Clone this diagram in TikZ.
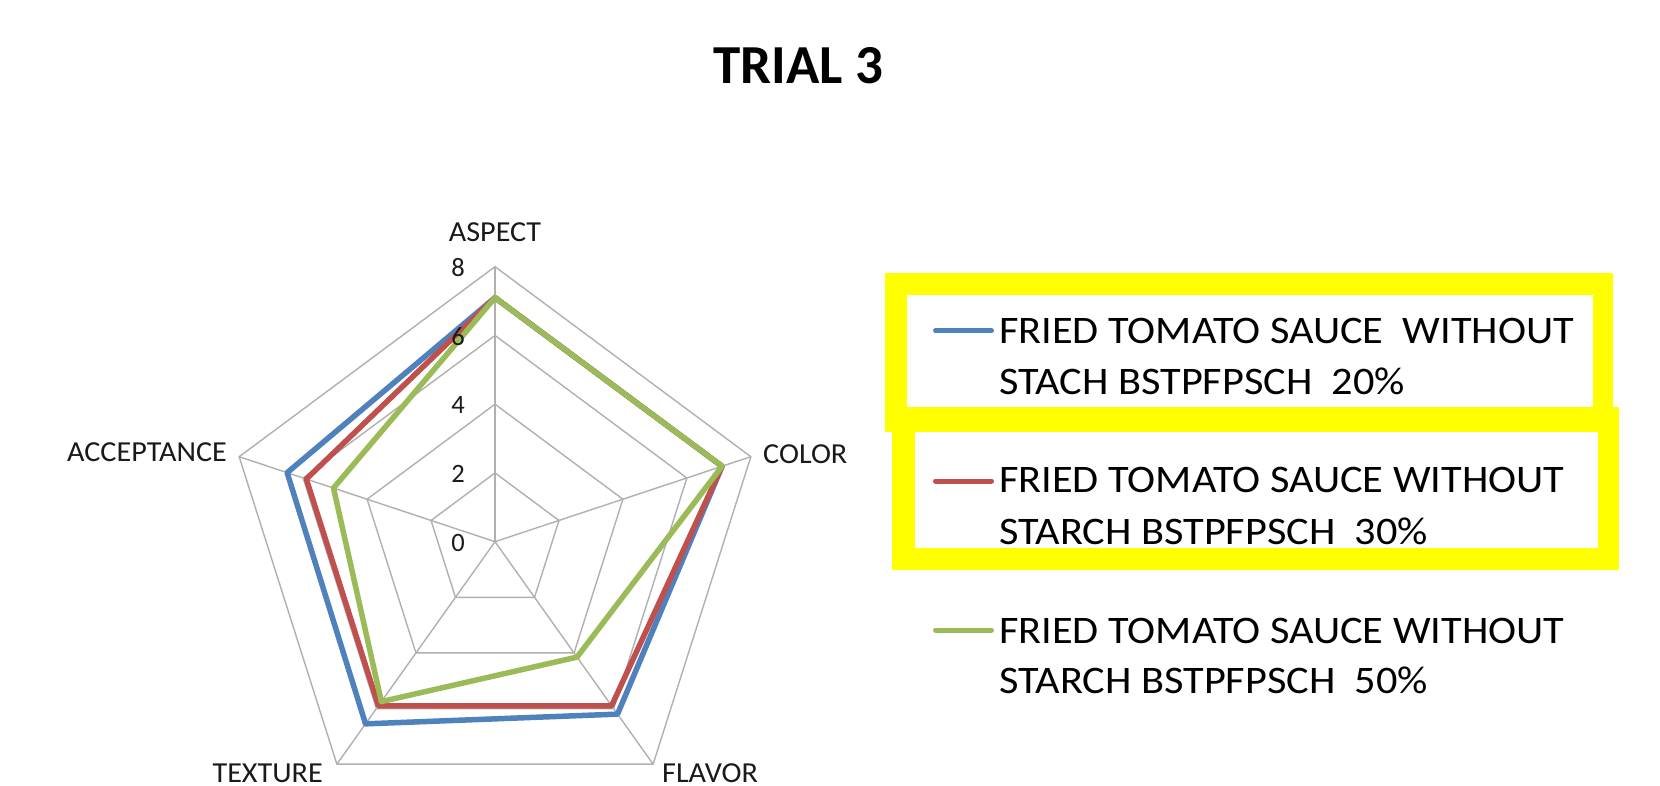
\documentclass[tikz,border=0pt]{standalone}
\usepackage{fontspec}
\setmainfont{Carlito}
\newfontfamily\legfont[FakeStretch=1.085]{Carlito}
\newfontfamily\axfont[FakeStretch=1.04]{Carlito}
\definecolor{sblue}{HTML}{4F81BD}
\definecolor{sred}{HTML}{C0504D}
\definecolor{sgreen}{HTML}{9BBB59}
\definecolor{gridc}{HTML}{B0B0B0}
\definecolor{txt}{HTML}{1A1A1A}
\definecolor{hl}{HTML}{FFFF00}
\begin{document}
\begin{tikzpicture}[x=1pt,y=-1pt,
  gridline/.style={draw=gridc,line width=1.4pt},
  series/.style={line width=5.5pt,line join=round,line cap=round},
  axlabel/.style={font=\axfont\fontsize{29}{34}\selectfont,text=txt,inner sep=0pt},
  ticklab/.style={font=\fontsize{26.5}{31}\selectfont,text=txt,inner sep=0pt,anchor=east},
  legtext/.style={font=\legfont\fontsize{39}{47}\selectfont,text=black,inner sep=0pt,anchor=base west},
  legline/.style={line width=5pt,line cap=round}]
\useasboundingbox (0,0) rectangle (1660,786);
\fill[white] (0,0) rectangle (1660,786);

% title
\node[font=\bfseries\fontsize{55}{66}\selectfont,anchor=base,inner sep=0pt] (title) at (798,83.3) {TRIAL 3};

% radar chart
\begin{scope}[shift={(495,541.7)},x={(33.625pt,0pt)},y={(0pt,34.375pt)}]
  \coordinate (ctr) at (0,0);
  \foreach \r in {2,4,6,8}{
    \draw[gridline] (90:\r) -- (18:\r) -- (-54:\r) -- (-126:\r) -- (162:\r) -- cycle;
  }
  \foreach \a/\n in {90/a,18/b,-54/c,-126/d,162/e}{
    \coordinate (ax\n) at (\a:8);
    \draw[gridline] (ctr) -- (ax\n);
  }
  \draw[series,sblue]  (90:7.1) -- (18:7.1) -- (-54:6.2) -- (-126:6.55) -- (162:6.5) -- cycle;
  \draw[series,sred]   (90:7.1) -- (18:7.1) -- (-54:5.9) -- (-126:5.9) -- (162:5.9) -- cycle;
  \draw[series,sgreen] (90:7.1) -- (18:7.1) -- (-54:4.15) -- (-126:5.75) -- (162:5.05) -- cycle;
\end{scope}

% tick labels
\node[ticklab] (t8) at (465,267.7) {8};
\node[ticklab] (t6) at (465,336.5) {6};
\node[ticklab] (t4) at (465,405.2) {4};
\node[ticklab] (t2) at (465,473.9) {2};
\node[ticklab] (t0) at (465,542.7) {0};

% axis labels
\node[axlabel,anchor=base] (lasp) at (495,241.7) {ASPECT};
\node[axlabel,anchor=base west] (lcol) at (763,463.3) {COLOR};
\node[axlabel,anchor=base east] (lacc) at (227,461.7) {ACCEPTANCE};
\node[axlabel,anchor=base east] (ltex) at (323,782) {TEXTURE};
\node[axlabel,anchor=base west] (lfla) at (662,782) {FLAVOR};

% legend highlight boxes
\fill[hl] (885,273) rectangle (1613,431.7);
\fill[white] (906.6,295) rectangle (1593.4,407.3);
\fill[hl] (892,407.3) rectangle (1619,570);
\fill[white] (915,431.7) rectangle (1598,548.3);

% legend entries
\coordinate (s1a) at (935.5,330.7); \coordinate (s1b) at (991.5,330.7);
\coordinate (s2a) at (935.5,481);   \coordinate (s2b) at (991.5,481);
\coordinate (s3a) at (935.5,630);   \coordinate (s3b) at (991.5,630);
\draw[legline,sblue]  (s1a) -- (s1b);
\draw[legline,sred]   (s2a) -- (s2b);
\draw[legline,sgreen] (s3a) -- (s3b);
\node[legtext] (e1a) at (999,343.3) {FRIED TOMATO SAUCE \ WITHOUT};
\node[legtext] (e1b) at (999,394.3) {STACH BSTPFPSCH \ 20\%};
\node[legtext] (e2a) at (999,492.7) {FRIED TOMATO SAUCE WITHOUT};
\node[legtext] (e2b) at (999,544.3) {STARCH BSTPFPSCH \ 30\%};
\node[legtext] (e3a) at (999,643.3) {FRIED TOMATO SAUCE WITHOUT};
\node[legtext] (e3b) at (999,693.3) {STARCH BSTPFPSCH \ 50\%};
\end{tikzpicture}
\end{document}
